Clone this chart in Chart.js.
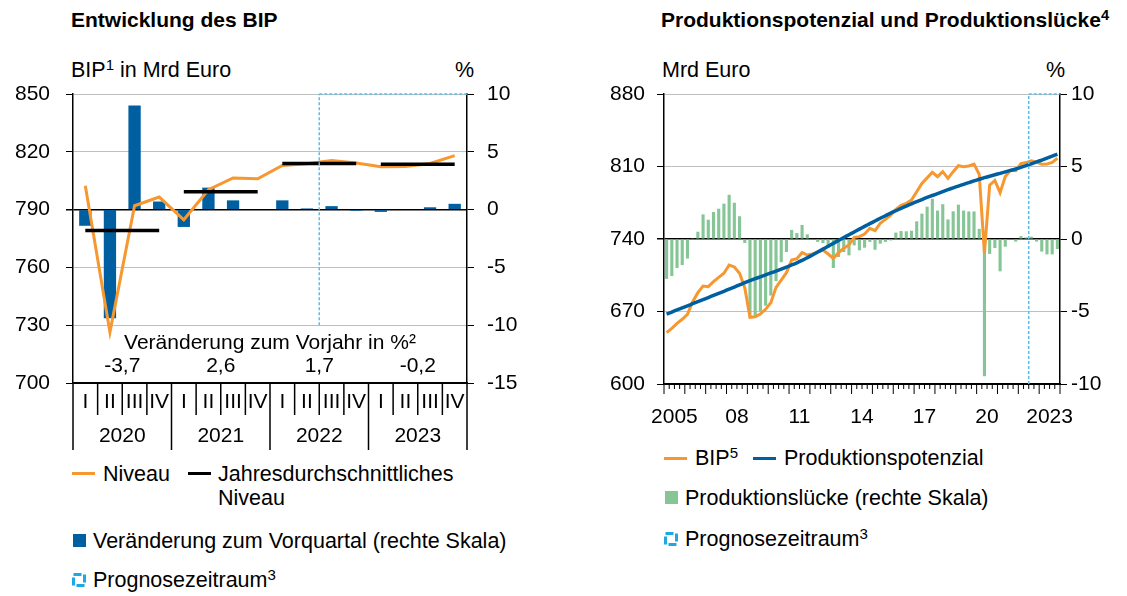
<!DOCTYPE html>
<html lang="de">
<head>
<meta charset="utf-8">
<script src="https://cdn.jsdelivr.net/npm/chart.js@4.4.1/dist/chart.umd.min.js"></script>
<style>
  body { margin: 0; background: #fff; font-family: "Liberation Sans", Arial, sans-serif; color: #000; }
  #page { position: relative; width: 1127px; height: 596px; overflow: hidden; }
  .txt { position: absolute; font-size: 21.5px; line-height: 24px; white-space: nowrap; }
  .title { font-weight: bold; font-size: 21px; }
  sup { font-size: 0.7em; line-height: 0; vertical-align: 0.45em; }
  canvas { position: absolute; }
  .lg-line { position: absolute; height: 3px; width: 23px; }
  .lg-box { position: absolute; width: 13px; height: 13px; }
  .lg-prog { position: absolute; }
</style>
</head>
<body>
<div id="page">
  <!-- linke Grafik -->
  <div class="txt title" style="left:71px; top:8px;">Entwicklung des BIP</div>
  <div class="txt" style="left:71px; top:58px;">BIP<sup>1</sup> in Mrd Euro</div>
  <div class="txt" style="left:455px; top:58px;">%</div>
  <canvas id="chartBip" width="560" height="400" style="left:0; top:60px;"></canvas>

  <div class="lg-line" style="left:72px; top:472px; background:#f7972f;"></div>
  <div class="txt" style="left:103px; top:462px;">Niveau</div>
  <div class="lg-line" style="left:188px; top:472px; background:#000;"></div>
  <div class="txt" style="left:218px; top:462px;">Jahresdurchschnittliches</div>
  <div class="txt" style="left:218px; top:486px;">Niveau</div>
  <div class="lg-box" style="left:73px; top:534px; background:#005fa0;"></div>
  <div class="txt" style="left:93px; top:529px;">Veränderung zum Vorquartal (rechte Skala)</div>
  <svg class="lg-prog" width="14" height="14" style="left:72px; top:573px;"><rect x="1.5" y="1.5" width="11" height="11" fill="none" stroke="#1ea8e2" stroke-width="3" stroke-dasharray="8 3"/></svg>
  <div class="txt" style="left:93px; top:568px;">Prognosezeitraum<sup>3</sup></div>

  <!-- rechte Grafik -->
  <div class="txt title" style="left:661px; top:8px;">Produktionspotenzial und Produktionslücke<sup>4</sup></div>
  <div class="txt" style="left:662px; top:58px;">Mrd Euro</div>
  <div class="txt" style="left:1046px; top:58px;">%</div>
  <canvas id="chartPotenzial" width="537" height="380" style="left:590px; top:60px;"></canvas>

  <div class="lg-line" style="left:664px; top:457px; background:#f7972f;"></div>
  <div class="txt" style="left:695px; top:446px;">BIP<sup>5</sup></div>
  <div class="lg-line" style="left:753px; top:457px; background:#005fa0;"></div>
  <div class="txt" style="left:784px; top:446px;">Produktionspotenzial</div>
  <div class="lg-box" style="left:665px; top:491px; background:#86c696;"></div>
  <div class="txt" style="left:685px; top:486px;">Produktionslücke (rechte Skala)</div>
  <svg class="lg-prog" width="14" height="14" style="left:664px; top:532px;"><rect x="1.5" y="1.5" width="11" height="11" fill="none" stroke="#1ea8e2" stroke-width="3" stroke-dasharray="8 3"/></svg>
  <div class="txt" style="left:685px; top:527px;">Prognosezeitraum<sup>3</sup></div>
</div>

<script>
// Entwicklung des BIP, Quartale 2020 bis 2023
const quartale = ["I", "II", "III", "IV"];
const jahre = ["2020", "2021", "2022", "2023"];
const bipNiveau = [802.4, 726.4, 792.0, 796.5, 784.7, 800.3, 806.4, 806.0, 812.9, 813.8, 815.5, 814.2, 812.2, 812.4, 813.9, 818.0];
const bipJahresniveau = [779.2, 779.2, 779.2, 779.2, 799.2, 799.2, 799.2, 799.2, 813.9, 813.9, 813.9, 813.9, 813.6, 813.6, 813.6, 813.6];
const bipVorquartal = [-1.4, -9.4, 9.0, 0.7, -1.5, 1.9, 0.8, 0.0, 0.8, 0.1, 0.3, -0.1, -0.2, 0.0, 0.2, 0.5];
const bipVorjahr = ["-3,7", "2,6", "1,7", "-0,2"];
const prognoseAbBip = 10; // 2022 Q3

// Produktionspotenzial und Produktionslücke, Quartale 2005 bis 2023
const jahreLang = [2005, 2006, 2007, 2008, 2009, 2010, 2011, 2012, 2013, 2014, 2015, 2016, 2017, 2018, 2019, 2020, 2021, 2022, 2023];
const jahrBeschriftung = ["2005", "", "", "08", "", "", "11", "", "", "14", "", "", "17", "", "", "20", "", "", "2023"];
const bipReal = [
  649.6, 653.7, 658.6, 662.5, 667.3, 679.5, 688.2, 694.6, 694.0, 698.8, 703.0, 706.9,
  714.9, 713.0, 707.0, 693.0, 664.4, 665.0, 667.6, 672.1, 678.5, 693.3, 700.4, 707.5,
  719.7, 721.0, 726.8, 724.5, 725.5, 727.4, 729.4, 725.5, 721.3, 726.8, 731.0, 734.2,
  741.6, 742.3, 744.8, 750.3, 748.0, 755.1, 759.0, 763.1, 768.6, 772.4, 774.4, 777.6,
  785.7, 793.7, 799.0, 804.4, 800.2, 805.0, 798.6, 805.0, 810.8, 809.8, 810.5, 812.4,
  802.4, 726.4, 792.0, 796.5, 784.7, 800.3, 806.4, 806.0, 812.9, 813.8, 815.5, 814.2,
  812.2, 812.4, 813.9, 818.0
];
const potenzial = [
  667.5, 669.5, 671.5, 673.5, 675.5, 677.5, 679.5, 681.5, 683.5, 685.5, 687.5, 689.5,
  691.6, 693.6, 695.7, 697.8, 699.8, 701.7, 703.5, 705.3, 707.2, 709.0, 710.9, 712.9,
  714.9, 717.0, 719.3, 721.9, 724.6, 727.4, 730.2, 733.0, 735.8, 738.6, 741.4, 744.1,
  746.8, 749.5, 752.2, 754.8, 757.4, 760.0, 762.5, 765.0, 767.3, 769.6, 771.8, 774.0,
  776.1, 778.1, 780.1, 782.0, 783.9, 785.8, 787.6, 789.4, 791.1, 792.8, 794.5, 796.1,
  797.7, 799.2, 800.6, 802.0, 803.4, 804.8, 806.2, 807.6, 809.2, 810.9, 812.6, 814.4,
  816.2, 818.1, 820.0, 822.0
];
const luecke = [
  -2.75, -2.55, -2.0, -1.8, -1.35, 0.05, 0.5, 1.7, 1.33, 1.86, 2.09, 2.44,
  3.05, 2.5, 1.57, -0.27, -5.4, -5.3, -5.0, -4.6, -3.9, -2.9, -1.6, -0.9,
  0.63, 0.41, 0.97, 0.32, 0.0, -0.2, -0.28, -0.6, -2.0, -1.24, -0.9, -1.13,
  -0.44, -0.78, -0.6, -0.2, -0.74, -0.32, -0.2, -0.1, 0.44, 0.55, 0.53, 0.57,
  1.22, 1.75, 2.23, 2.77, 1.96, 2.4, 1.35, 1.91, 2.37, 1.96, 1.9, 1.9,
  0.7, -9.47, -1.03, -0.62, -2.23, -0.53, 0.0, -0.18, 0.2, 0.11, 0.16, -0.18,
  -0.87, -1.06, -1.06, -0.69
];
const prognoseAbPotenzial = 70; // 2022 Q3

const ORANGE = "#f7972f";
const BLAU = "#005fa0";
const GRUEN = "#86c696";
const PROGNOSE = "#5bbde9";
const GITTER = "#bfbfbf";

Chart.defaults.font.family = '"Liberation Sans", Arial, sans-serif';
Chart.defaults.font.size = 21;
Chart.defaults.color = "#000";

const labelsBip = jahre.flatMap((j) => quartale.map((q) => j + " " + q));
const labelsPot = jahreLang.flatMap((j) => quartale.map((q) => j + " " + q));

function linie(ctx, x1, y1, x2, y2) {
	ctx.beginPath();
	ctx.moveTo(x1, y1);
	ctx.lineTo(x2, y2);
	ctx.stroke();
}

// Grenze links vom Quartal i (i == Anzahl -> rechter Rand)
function grenze(scale, i, n) {
	const step = scale.getPixelForValue(1) - scale.getPixelForValue(0);
	if (i >= n) return scale.getPixelForValue(n - 1) + step / 2;
	return scale.getPixelForValue(i) - step / 2;
}

// Quartals- und Jahresbeschriftung unter der linken Grafik, Vorjahreswerte, Prognosekasten
const bipAchse = {
	id: "bipAchse",
	afterDatasetsDraw(chart) {
		const {ctx, chartArea: a, scales: {x, y}} = chart;
		const n = labelsBip.length;
		ctx.save();
		// Prognosezeitraum
		const px = grenze(x, prognoseAbBip, n);
		ctx.strokeStyle = PROGNOSE;
		ctx.lineWidth = 1.5;
		ctx.setLineDash([3, 2]);
		linie(ctx, px, y.getPixelForValue(730), px, a.top);
		linie(ctx, px, a.top, a.right, a.top);
		ctx.restore();
	},
	afterDraw(chart) {
		const {ctx, chartArea: a, scales: {x}} = chart;
		const n = labelsBip.length;
		ctx.save();
		ctx.strokeStyle = "#000";
		ctx.lineWidth = 1.5;
		ctx.fillStyle = "#000";
		ctx.font = '21px "Liberation Sans", Arial, sans-serif';
		ctx.textAlign = "center";
		ctx.textBaseline = "middle";
		for (let i = 0; i <= n; i++) {
			const gx = grenze(x, i, n);
			linie(ctx, gx, a.bottom, gx, a.bottom + (i % 4 === 0 ? 67 : 32));
			if (i < n) ctx.fillText(quartale[i % 4], x.getPixelForValue(i), a.bottom + 19);
		}
		jahre.forEach((j, k) => {
			const mx = (grenze(x, k * 4, n) + grenze(x, k * 4 + 4, n)) / 2;
			ctx.fillText(j, mx, a.bottom + 53);
			ctx.fillText(bipVorjahr[k], mx, a.bottom - 17);
		});
		ctx.fillText("Veränderung zum Vorjahr in %²", (a.left + a.right) / 2, a.bottom - 40);
		ctx.restore();
	},
};

new Chart(document.getElementById("chartBip"), {
	type: "bar",
	data: {
		labels: labelsBip,
		datasets: [
			{
				type: "line",
				label: "Jahresdurchschnittliches Niveau",
				data: bipJahresniveau,
				yAxisID: "y",
				borderColor: "#000",
				borderWidth: 3.5,
				pointRadius: 0,
				order: 1,
				segment: {
					borderColor: (c) => (c.p0DataIndex % 4 === 3 ? "rgba(0,0,0,0)" : "#000"),
				},
			},
			{
				type: "line",
				label: "Niveau",
				data: bipNiveau,
				yAxisID: "y",
				borderColor: ORANGE,
				borderWidth: 3,
				pointRadius: 0,
				tension: 0,
				order: 2,
			},
			{
				type: "bar",
				label: "Veränderung zum Vorquartal",
				data: bipVorquartal,
				yAxisID: "y2",
				backgroundColor: BLAU,
				barPercentage: 0.5,
				categoryPercentage: 1,
				order: 3,
			},
		],
	},
	options: {
		responsive: false,
		animation: false,
		layout: {padding: {top: 34}},
		plugins: {legend: {display: false}, tooltip: {enabled: false}},
		scales: {
			x: {
				grid: {drawOnChartArea: false, drawTicks: false},
				border: {color: "#000", width: 1.5},
				ticks: {display: false},
				afterFit: (s) => { s.height = 77; },
			},
			y: {
				position: "left",
				min: 700,
				max: 850,
				ticks: {stepSize: 30, padding: 16},
				grid: {
					color: (c) => (c.tick.value === 790 || c.tick.value === 700 ? "#000" : GITTER),
					lineWidth: (c) => (c.tick.value === 790 ? 1.5 : 1),
					tickColor: "#000",
					tickLength: 7,
				},
				border: {color: "#000", width: 1.5},
				afterFit: (s) => { s.width = 73; },
			},
			y2: {
				position: "right",
				min: -15,
				max: 10,
				ticks: {stepSize: 5, padding: 13},
				grid: {drawOnChartArea: false, tickColor: "#000", tickLength: 7},
				border: {color: "#000", width: 1.5},
				afterFit: (s) => { s.width = 93; },
			},
		},
	},
	plugins: [bipAchse],
});

// Zeitachse der rechten Grafik: Quartalsstriche, Jahresstriche, Jahreszahlen, Prognosekasten
const potAchse = {
	id: "potAchse",
	afterDatasetsDraw(chart) {
		const {ctx, chartArea: a, scales: {x}} = chart;
		const n = labelsPot.length;
		ctx.save();
		const px = grenze(x, prognoseAbPotenzial, n);
		ctx.strokeStyle = PROGNOSE;
		ctx.lineWidth = 1.5;
		ctx.setLineDash([3, 2]);
		linie(ctx, px, a.bottom, px, a.top);
		linie(ctx, px, a.top, a.right, a.top);
		ctx.restore();
	},
	afterDraw(chart) {
		const {ctx, chartArea: a, scales: {x}} = chart;
		const n = labelsPot.length;
		ctx.save();
		ctx.strokeStyle = "#000";
		ctx.lineWidth = 1;
		for (let i = 0; i <= n; i++) {
			const gx = grenze(x, i, n);
			linie(ctx, gx, a.bottom, gx, a.bottom + (i % 4 === 0 ? 10 : 5));
		}
		ctx.fillStyle = "#000";
		ctx.font = '21px "Liberation Sans", Arial, sans-serif';
		ctx.textAlign = "center";
		ctx.textBaseline = "middle";
		jahrBeschriftung.forEach((t, k) => {
			if (!t) return;
			const mx = (grenze(x, k * 4, n) + grenze(x, k * 4 + 4, n)) / 2;
			ctx.fillText(t, mx, a.bottom + 33);
		});
		ctx.restore();
	},
};

new Chart(document.getElementById("chartPotenzial"), {
	type: "bar",
	data: {
		labels: labelsPot,
		datasets: [
			{
				type: "line",
				label: "Produktionspotenzial",
				data: potenzial,
				yAxisID: "y",
				borderColor: BLAU,
				borderWidth: 3.5,
				pointRadius: 0,
				tension: 0.3,
				order: 1,
			},
			{
				type: "line",
				label: "BIP",
				data: bipReal,
				yAxisID: "y",
				borderColor: ORANGE,
				borderWidth: 3,
				pointRadius: 0,
				tension: 0,
				order: 2,
			},
			{
				type: "bar",
				label: "Produktionslücke",
				data: luecke,
				yAxisID: "y2",
				backgroundColor: GRUEN,
				barPercentage: 0.6,
				categoryPercentage: 1,
				order: 3,
			},
		],
	},
	options: {
		responsive: false,
		animation: false,
		layout: {padding: {top: 34}},
		plugins: {legend: {display: false}, tooltip: {enabled: false}},
		scales: {
			x: {
				grid: {drawOnChartArea: false, drawTicks: false},
				border: {color: "#000", width: 1.5},
				ticks: {display: false},
				afterFit: (s) => { s.height = 56; },
			},
			y: {
				position: "left",
				min: 600,
				max: 880,
				ticks: {stepSize: 70, padding: 12},
				grid: {
					color: (c) => (c.tick.value === 740 || c.tick.value === 600 ? "#000" : GITTER),
					lineWidth: (c) => (c.tick.value === 740 ? 1.5 : 1),
					tickColor: "#000",
					tickLength: 7,
				},
				border: {color: "#000", width: 1.5},
				afterFit: (s) => { s.width = 74; },
			},
			y2: {
				position: "right",
				min: -10,
				max: 10,
				ticks: {stepSize: 5, padding: 4},
				grid: {drawOnChartArea: false, tickColor: "#000", tickLength: 7},
				border: {color: "#000", width: 1.5},
				afterFit: (s) => { s.width = 67; },
			},
		},
	},
	plugins: [potAchse],
});
</script>
</body>
</html>
